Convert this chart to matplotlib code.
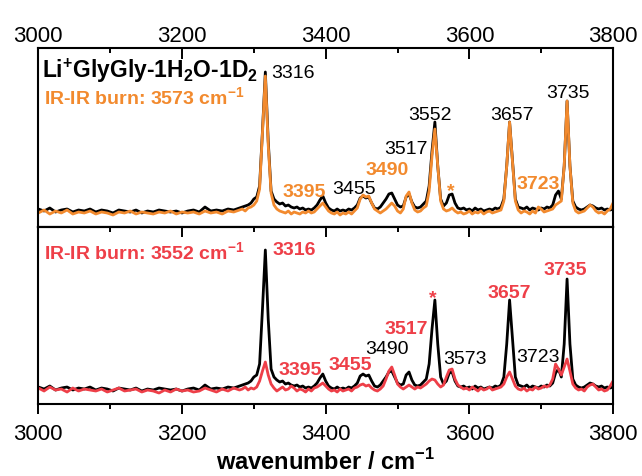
import numpy as np
import matplotlib
matplotlib.use('Agg')
import matplotlib.pyplot as plt
from matplotlib.ticker import MultipleLocator

plt.rcParams['font.family'] = ['Liberation Sans', 'DejaVu Sans']
plt.rcParams['mathtext.fontset'] = 'custom'
plt.rcParams['mathtext.rm'] = 'Liberation Sans'
plt.rcParams['mathtext.bf'] = 'Liberation Sans:bold'

# wavenumber grid: coarse on the flat part, finer where the peaks are
wn = np.concatenate([np.arange(3000, 3281, 8), np.arange(3284, 3801, 4)])

# reference spectrum Li+GlyGly-1H2O-1D2 (arb. units)
ref = [2, 0, 3, -1, 1, 2, -1, 1, 0, 2,
       -1, 1, 0, -2, 1, 0, -1, 1, -2, 0,
       -1, 1, 0, -1, 0, -2, 0, 1, -1, 4,
       0, 1, 0, 2, 1, 3,
       4, 5, 6, 8, 12, 14, 25, 80, 139, 70,
       20, 12, 9, 7, 8, 5, 6, 4, 3, 4,
       2, 3, 1, 2, 1, 3, 6, 11, 15, 8,
       3, 1, 0, 2, 0, 1, 0, 2, 1, 3,
       6, 13, 15, 13, 14, 8, 3, 2, 4, 8,
       12, 17, 18, 12, 6, 4, 5, 14, 17, 9,
       4, 3, 4, 7, 10, 25, 60, 89, 45, 12,
       5, 8, 16, 17, 8, 3, 2, 3, 1, 2,
       0, 3, 1, 2, 0, 1, 2, 1, 3, 2,
       4, 12, 45, 89, 50, 12, 4, 3, 2, 4,
       1, 3, 2, 1, 3, 2, 4, 3, 6, 16,
       20, 12, 45, 110, 45, 10, 4, 2, 1, 2,
       4, 6, 5, 3, 2, 3, 1, 2, 1, 2]

# IR-IR burn at 3573
burn_3573 = [-2, 1, -3, 0, -2, 1, -3, -1, -2, 0,
             -3, -1, -2, -4, -1, -2, 0, -3, -1, -2,
             -3, -1, -2, 0, -3, -1, -2, -1, -3, 0,
             -2, -1, -3, 0, -1, 1,
             2, 0, 3, 4, 6, 10, 22, 78, 135, 66,
             18, 6, 2, 0, -1, -2, 0, -3, -1, -2,
             -3, -1, -2, 0, -2, -1, 2, 5, 8, 4,
             0, -2, -3, -1, -4, -2, -3, -1, -3, 0,
             3, 12, 16, 14, 15, 8, 2, 0, -2, 0,
             2, 5, 8, 5, 0, -2, 2, 15, 19, 8,
             1, -1, 0, 3, 5, 20, 55, 82, 45, 10,
             2, 0, 1, 3, 0, -2, -1, -3, -2, 0,
             -3, -1, -2, 0, -3, -1, 0, -2, -1, 0,
             1, 10, 45, 89, 50, 10, 1, -2, 0, -1,
             -3, 0, -2, 4, 2, -1, 0, 1, 2, 6,
             8, 10, 45, 110, 45, 8, 0, -2, -1, 0,
             3, 6, 4, 0, -2, -1, -3, 0, 2, 8]

# IR-IR burn at 3552
burn_3552 = [1, -2, 2, -1, 0, -3, 1, -2, 0, -1,
             -2, 0, -3, -1, 1, -2, -1, 0, -3, -1,
             -2, -4, -1, -3, 0, -2, -1, -3, -2, 1,
             -1, -3, 0, -2, 1, -1,
             0, 2, -1, 1, 0, 2, 8, 18, 27, 14,
             5, 1, -2, 0, 2, -1, 0, 3, 1, -2,
             0, -1, -3, 0, -2, 1, 2, 4, 6, 3,
             0, -2, -1, -3, 0, -2, -1, 0, -2, 1,
             2, 4, 5, 3, 4, 1, -1, -2, 0, 3,
             10, 18, 22, 14, 5, 2, 0, 2, 4, 2,
             0, 2, 1, 3, 5, 8, 10, 9, 5, 2,
             4, 12, 19, 20, 10, 4, 2, 0, 1, -1,
             2, 0, -2, 1, -1, 0, 2, -1, 0, 1,
             2, 5, 12, 17, 10, 3, 0, -1, 1, -2,
             0, -1, 2, 0, 1, 3, 2, 4, 10, 25,
             20, 14, 22, 30, 18, 5, 1, -1, 0, -2,
             2, 4, 5, 2, -1, 0, -2, -1, 3, 8]

orange = '#F28A2E'
red = '#EE3F48'

# peak labels: (text, x, y, color, bold)
top_labels = [('3316', 3354, 139, 'k', False),
              ('3395', 3370, 20, orange, True),
              ('3455', 3439, 23, 'k', False),
              ('3490', 3485, 42, orange, True),
              ('3517', 3512, 63, 'k', False),
              ('3552', 3545, 97, 'k', False),
              ('*', 3574, 20, orange, True),
              ('3657', 3659, 97, 'k', False),
              ('3723', 3696, 28, orange, True),
              ('3735', 3737, 119, 'k', False)]
bot_labels = [('3316', 3356, 140, red, True),
              ('3395', 3364, 20, red, True),
              ('3455', 3434, 25, red, True),
              ('3490', 3485, 41, 'k', False),
              ('3517', 3512, 61, red, True),
              ('*', 3549, 91, red, True),
              ('3573', 3594, 31, 'k', False),
              ('3657', 3655, 97, red, True),
              ('3723', 3696, 33, 'k', False),
              ('3735', 3733, 120, red, True)]

fig = plt.figure(figsize=(6.42, 4.77), dpi=100)
ax1 = fig.add_axes([0.0597, 0.522, 0.8952, 0.3763])
ax2 = fig.add_axes([0.0597, 0.1509, 0.8952, 0.3711])

ax1.plot(wn, ref, color='k', lw=2)
ax1.plot(wn, burn_3573, color=orange, lw=2)
ax2.plot(wn, ref, color='k', lw=2)
ax2.plot(wn, burn_3552, color=red, lw=2)

ax1.set_ylim(-16, 163.5)
ax2.set_ylim(-15, 162)

for ax in (ax1, ax2):
    ax.set_xlim(3000, 3800)
    ax.set_yticks([])
    ax.xaxis.set_major_locator(MultipleLocator(200))
    ax.xaxis.set_minor_locator(MultipleLocator(100))
    for s in ax.spines.values():
        s.set_linewidth(1.5)

ax1.tick_params(axis='x', which='both', direction='in', top=True, bottom=False,
                labeltop=True, labelbottom=False, width=1.4, labelsize=16, pad=1)
ax1.tick_params(axis='x', which='major', length=8)
ax1.tick_params(axis='x', which='minor', length=3.6)

ax2.tick_params(axis='x', which='both', direction='out', top=False, bottom=True,
                width=1.4, labelsize=16, pad=6)
ax2.tick_params(axis='x', which='major', length=7.5)
ax2.tick_params(axis='x', which='minor', length=3.6)

sec = ax2.secondary_xaxis('top')
sec.xaxis.set_major_locator(MultipleLocator(200))
sec.xaxis.set_minor_locator(MultipleLocator(100))
sec.tick_params(axis='x', which='both', direction='in', labeltop=False, width=1.4)
sec.tick_params(axis='x', which='major', length=7.5)
sec.tick_params(axis='x', which='minor', length=3.6)
sec.spines['top'].set_linewidth(1.5)

ax2.set_xlabel(r'wavenumber / cm$^{\mathbf{-1}}$', fontsize=17, fontweight='bold', labelpad=3)

ax1.text(3004.8, 134, r'Li$^{\mathbf{+}}$GlyGly-1H$_{\mathbf{2}}$O-1D$_{\mathbf{2}}$',
         fontsize=16.5, fontweight='bold', va='baseline', ha='left')
ax1.text(3008, 107, r'IR-IR burn: 3573 cm$^{\mathbf{-1}}$', fontsize=14,
         fontweight='bold', color=orange, va='baseline', ha='left')
ax2.text(3008, 130, r'IR-IR burn: 3552 cm$^{\mathbf{-1}}$', fontsize=14,
         fontweight='bold', color=red, va='baseline', ha='left')

for ax, labels in ((ax1, top_labels), (ax2, bot_labels)):
    for txt, x, y, c, b in labels:
        ax.text(x, y, txt, color=c, fontsize=14, ha='center', va='center',
                fontweight='bold' if b else 'normal')

fig.savefig('out.png', dpi=100)
